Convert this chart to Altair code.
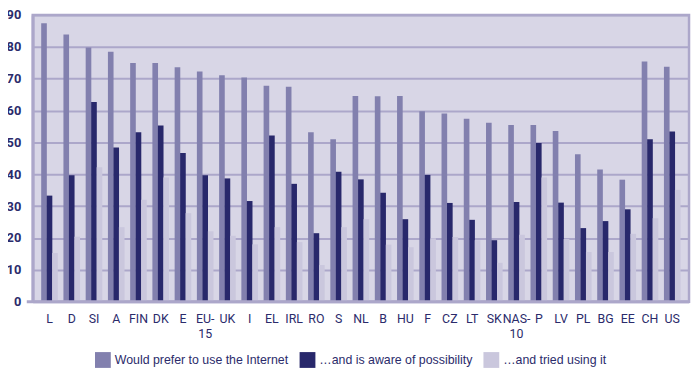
import altair as alt
import pandas as pd

categories = ["L", "D", "SI", "A", "FIN", "DK", "E", "EU-|15", "UK", "I", "EL", "IRL", "RO", "S",
              "NL", "B", "HU", "F", "CZ", "LT", "SK", "NAS-|10", "P", "LV", "PL", "BG", "EE", "CH", "US"]
prefer = [87.4, 83.9, 79.8, 78.5, 74.9, 74.9, 73.6, 72.3, 71.1, 70.4, 67.8, 67.5, 53.2, 51.0,
          64.6, 64.5, 64.6, 59.8, 59.1, 57.4, 56.2, 55.5, 55.5, 53.6, 46.3, 41.5, 38.3, 75.4, 73.8]
aware = [33.3, 39.7, 62.7, 48.4, 53.2, 55.3, 46.7, 39.7, 38.7, 31.6, 52.2, 37.0, 21.5, 40.8,
         38.4, 34.2, 25.9, 39.8, 31.0, 25.7, 19.3, 31.3, 49.8, 31.1, 23.1, 25.3, 29.0, 51.0, 53.4]
tried = [15.3, 20.4, 42.2, 23.4, 32.0, 39.0, 27.8, 22.1, 20.7, 18.0, 23.4, 18.7, 11.5, 23.4,
         25.9, 17.9, 17.1, 19.9, 20.3, 19.3, 12.2, 21.0, 39.0, 19.7, 15.6, 15.6, 21.3, 26.2, 35.1]
series = ["Would prefer to use the Internet", "\u2026and is aware of possibility", "\u2026and tried using it"]
colors = ["#8280ae", "#28286b", "#cac7dd"]
y_ticks = [0, 10, 20, 30, 40, 50, 60, 70, 80, 90]

rows = []
for i, c in enumerate(categories):
    for s, vals in zip(series, [prefer, aware, tried]):
        rows.append({"country": c, "series": s, "value": vals[i]})
df = pd.DataFrame(rows)

W, H = 664, 290
grid = "#aca7ca"
navy = "#2b2b6b"

y_scale = alt.Scale(domain=[0, 90], nice=False, zero=True)
y_axis = alt.Axis(values=y_ticks, ticks=False, labelOverlap=False, title=None,
                  domainColor=grid, domainWidth=3,
                  gridColor=grid, gridWidth=2, gridOpacity=1,
                  labelFont="Roboto", labelFontSize=13, labelFontWeight="bold",
                  labelColor=navy, labelPadding=12)

bars = alt.Chart(df).mark_bar(size=5.7).encode(
    x=alt.X("country:N", sort=categories, title=None,
            scale=alt.Scale(paddingInner=0.26, paddingOuter=0.385),
            axis=alt.Axis(labelAngle=0, domain=False, ticks=False, grid=False,
                          labelExpr="split(datum.value, '|')",
                          labelFont="Roboto", labelFontSize=12.5, labelFontWeight="normal",
                          labelColor=navy, labelPadding=11, labelLineHeight=15,
                          labelBaseline="top")),
    xOffset=alt.XOffset("series:N", sort=series, scale=alt.Scale(paddingInner=0, paddingOuter=0)),
    y=alt.Y("value:Q", title=None, scale=y_scale, axis=y_axis),
    color=alt.Color("series:N", sort=series,
                    scale=alt.Scale(domain=series, range=colors),
                    legend=alt.Legend(title=None, orient="none", legendX=63, legendY=341,
                                      direction="horizontal", symbolType="square",
                                      symbolSize=256, symbolStrokeWidth=0, symbolOpacity=1,
                                      labelFont="Liberation Sans", labelFontSize=12.5,
                                      labelLimit=400,
                                      labelColor=navy, labelOffset=4, columnPadding=11)),
)

zero = alt.Chart(pd.DataFrame({"value": [0]})).mark_rule(color=grid, strokeWidth=3).encode(
    y=alt.Y("value:Q", title=None, scale=y_scale, axis=y_axis),
    x=alt.value(-6), x2=alt.value(W)
)

chart = alt.layer(bars, zero).properties(
    width=W, height=H,
    autosize=alt.AutoSizeParams(type="none"),
    padding={"left": 25, "top": 5, "right": 3, "bottom": 66},
).configure_view(
    fill="#d8d6e6", stroke=grid, strokeWidth=2.5
)

chart.save("out.html", embed_options={"renderer": "svg", "actions": False})
